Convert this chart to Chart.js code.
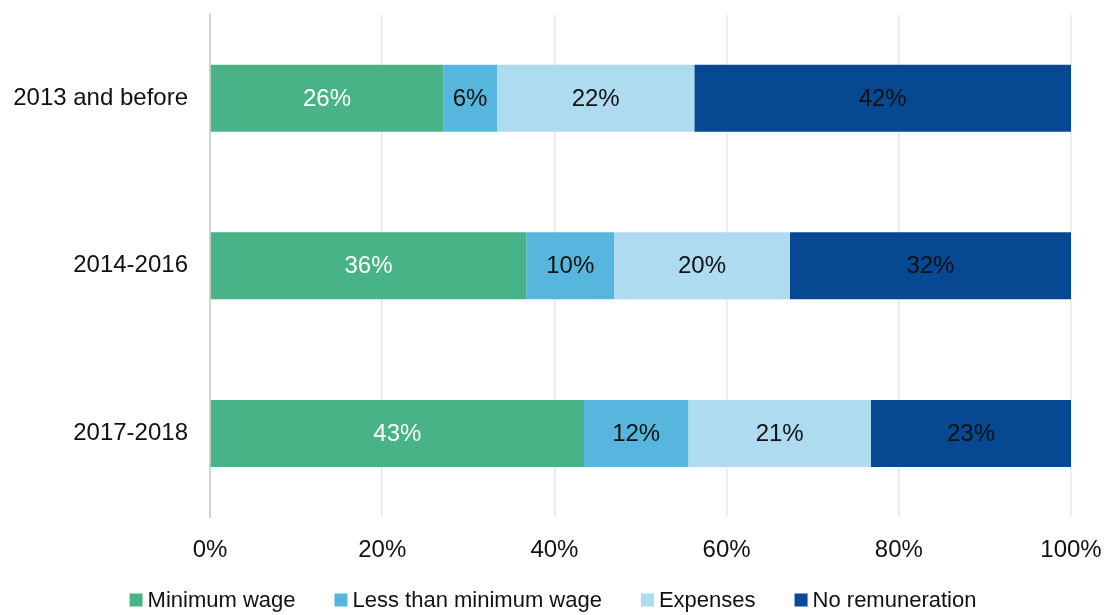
<!DOCTYPE html>
<html>
<head>
<meta charset="utf-8">
<script src="https://cdn.jsdelivr.net/npm/chart.js@4"></script>
<style>
  html, body { margin: 0; padding: 0; background: #fff; }
  #wrap { width: 1106px; height: 615px; }
</style>
</head>
<body>
<div id="wrap"><canvas id="chart" width="1106" height="615"></canvas></div>
<script>
// Datos (porcentajes mostrados en las barras)
const categories = ['2013 and before', '2014-2016', '2017-2018'];
const seriesNames = ['Minimum wage', 'Less than minimum wage', 'Expenses', 'No remuneration'];
const minimumWage = [26, 36, 43];
const lessThanMinimum = [6, 10, 12];
const expenses = [22, 20, 21];
const noRemuneration = [42, 32, 23];
const xTicks = [0, 20, 40, 60, 80, 100];

const colors = ['#47b386', '#57b6dd', '#aedbf0', '#074892'];
const labelColors = ['#ffffff', '#111111', '#111111', '#111111'];
const FONT = "'Liberation Sans', Arial, sans-serif";

const raw = [minimumWage, lessThanMinimum, expenses, noRemuneration];
// Las barras suman 100% aunque las etiquetas no
const totals = categories.map((c, i) => raw.reduce((s, arr) => s + arr[i], 0));

const datasets = raw.map((arr, k) => ({
    label: seriesNames[k],
    data: arr.map((v, i) => v / totals[i] * 100),
    rawValues: arr,
    backgroundColor: colors[k],
    borderWidth: 0,
    barPercentage: 0.4,
    categoryPercentage: 1
}));

// Etiquetas dentro de cada segmento
const barLabels = {
    id: 'barLabels',
    afterDatasetsDraw(chart) {
        const ctx = chart.ctx;
        ctx.save();
        ctx.font = '24px ' + FONT;
        ctx.textAlign = 'center';
        ctx.textBaseline = 'middle';
        chart.data.datasets.forEach((ds, k) => {
            chart.getDatasetMeta(k).data.forEach((el, i) => {
                const p = el.getProps(['x', 'y', 'base'], true);
                ctx.fillStyle = labelColors[k];
                ctx.fillText(ds.rawValues[i] + '%', (p.x + p.base) / 2, p.y + 1);
            });
        });
        ctx.restore();
    }
};

// Leyenda propia: cuadro pegado al texto y más aire entre elementos
const bottomLegend = {
    id: 'bottomLegend',
    afterDraw(chart) {
        const ctx = chart.ctx;
        const box = 13, gap = 5, itemGap = 39, y = 600;
        ctx.save();
        ctx.font = '22px ' + FONT;
        ctx.textBaseline = 'middle';
        const widths = chart.data.datasets.map(ds => ctx.measureText(ds.label).width);
        const total = widths.reduce((s, w) => s + box + gap + w, 0) + itemGap * (widths.length - 1);
        let x = (chart.width - total) / 2;
        chart.data.datasets.forEach((ds, k) => {
            ctx.fillStyle = ds.backgroundColor;
            ctx.fillRect(x, y - box / 2, box, box);
            ctx.fillStyle = '#111';
            ctx.fillText(ds.label, x + box + gap, y + 1);
            x += box + gap + widths[k] + itemGap;
        });
        ctx.restore();
    }
};

new Chart(document.getElementById('chart'), {
    type: 'bar',
    data: { labels: categories, datasets },
    plugins: [barLabels, bottomLegend],
    options: {
        indexAxis: 'y',
        responsive: false,
        animation: false,
        layout: { padding: { left: 0, right: 35, top: 12, bottom: 50 } },
        scales: {
            x: {
                stacked: true,
                min: 0,
                max: 100,
                afterBuildTicks: s => { s.ticks = xTicks.map(v => ({ value: v })); },
                grid: { color: '#e8e8e8', lineWidth: 1.5, drawTicks: true, tickLength: 19, tickColor: 'rgba(0,0,0,0)' },
                border: { display: false },
                ticks: {
                    padding: 0,
                    color: '#111',
                    font: { size: 24, family: FONT },
                    callback: v => v + '%'
                }
            },
            y: {
                stacked: true,
                afterFit: s => { s.width = 210; },
                grid: { display: true, drawOnChartArea: false, drawTicks: true, tickLength: 22, tickColor: 'rgba(0,0,0,0)' },
                border: { display: true, color: '#d4d4d4', width: 2 },
                ticks: {
                    padding: 0,
                    color: '#111',
                    font: { size: 24, family: FONT }
                }
            }
        },
        plugins: {
            tooltip: { enabled: false },
            legend: { display: false }
        }
    }
});
</script>
</body>
</html>
